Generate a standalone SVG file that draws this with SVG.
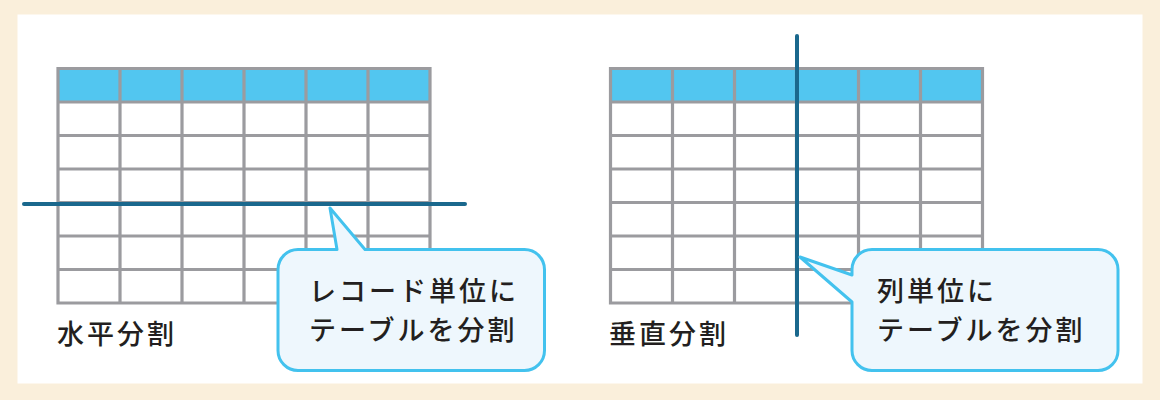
<svg xmlns="http://www.w3.org/2000/svg" width="1160" height="400" viewBox="0 0 1160 400">
<style>
.grid{fill:none;stroke:#9b9b9f;stroke-width:3.2}
.hdr{fill:#52c6f0}
.cut{stroke:#1a688d;stroke-width:4;stroke-linecap:round;fill:none}
.bubble{fill:#eef7fd;stroke:#43c2ee;stroke-width:3;stroke-linejoin:round}
.t{font-family:"Noto Sans CJK JP","Noto Sans",sans-serif;font-size:27px;font-weight:500;letter-spacing:3px;fill:#231f20}
</style>
<rect x="0" y="0" width="1160" height="400" fill="#faefdb"/>
<rect x="17.5" y="14.5" width="1125" height="369" fill="#ffffff"/>

<g id="table-horizontal">
  <rect class="hdr" x="58" y="68.5" width="372" height="33.5"/>
  <path class="grid" d="M58 68.5H430V303H58Z M120 68.5V303 M182 68.5V303 M244 68.5V303 M306 68.5V303 M368 68.5V303 M58 102H430 M58 135.5H430 M58 169H430 M58 202.5H430 M58 236H430 M58 269.5H430"/>
  <text class="t" x="57" y="344">水平分割</text>
</g>

<g id="table-vertical">
  <rect class="hdr" x="610.5" y="68.5" width="372" height="33.5"/>
  <path class="grid" d="M610.5 68.5H982.5V303H610.5Z M672.5 68.5V303 M734.5 68.5V303 M796.5 68.5V303 M858.5 68.5V303 M920.5 68.5V303 M610.5 102H982.5 M610.5 135.5H982.5 M610.5 169H982.5 M610.5 202.5H982.5 M610.5 236H982.5 M610.5 269.5H982.5"/>
  <text class="t" x="609" y="344">垂直分割</text>
</g>

<g id="connectors">
  <line class="cut" x1="24" y1="204" x2="465" y2="204"/>
  <line class="cut" x1="797" y1="36" x2="797" y2="335"/>
</g>

<g id="callout-record">
  <path class="bubble" d="M298 249.5H337L330 208L365 249.5H524.5A20 20 0 0 1 544.5 269.5V350.5A20 20 0 0 1 524.5 370.5H298A20 20 0 0 1 278 350.5V269.5A20 20 0 0 1 298 249.5Z"/>
  <text class="t" x="309" y="301">レコード単位に</text>
  <text class="t" x="309" y="340">テーブルを分割</text>
</g>

<g id="callout-column">
  <path class="bubble" d="M872 249.5H1098A20 20 0 0 1 1118 269.5V350.5A20 20 0 0 1 1098 370.5H872A20 20 0 0 1 852 350.5V302L800 257L852 275V269.5A20 20 0 0 1 872 249.5Z"/>
  <text class="t" x="877" y="301">列単位に</text>
  <text class="t" x="877" y="340">テーブルを分割</text>
</g>
</svg>
